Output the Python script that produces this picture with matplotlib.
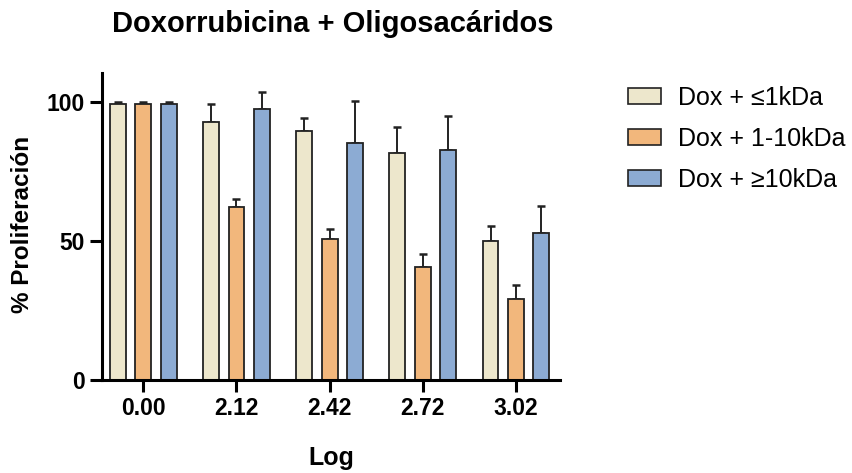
import matplotlib
matplotlib.use("Agg")
import matplotlib.pyplot as plt
import numpy as np

plt.rcParams['font.family'] = ['Liberation Sans', 'DejaVu Sans']

categories = ["0.00", "2.12", "2.42", "2.72", "3.02"]
series_names = ["Dox + \u22641kDa", "Dox + 1-10kDa", "Dox + \u226510kDa"]
low_vals = [99.0, 92.7, 89.5, 81.6, 50.0]
low_err = [1.0, 6.5, 4.7, 9.4, 5.4]
mid_vals = [99.0, 62.0, 50.6, 40.7, 29.2]
mid_err = [1.0, 3.1, 3.6, 4.7, 4.8]
high_vals = [99.0, 97.4, 85.0, 82.5, 52.8]
high_err = [1.0, 6.0, 15.3, 12.4, 9.6]
colors = ["#EDE7CC", "#F2B77C", "#8CABD3"]

fig = plt.figure(figsize=(8.52, 4.73), dpi=100)
ax = fig.add_axes([0.120, 0.1966, 0.537, 0.6494])

x = np.arange(len(categories))
width = 0.17
offset = 0.273
series = [(low_vals, low_err), (mid_vals, mid_err), (high_vals, high_err)]
for i, ((vals, errs), c, name) in enumerate(zip(series, colors, series_names)):
    pos = x + (i - 1) * offset
    ax.bar(pos, vals, width, color=c, edgecolor="#222222", linewidth=1.3, label=name, zorder=2)
    ax.errorbar(pos, vals, yerr=[np.zeros(len(errs)), errs], fmt="none", ecolor="#222222",
                elinewidth=1.4, capsize=3.2, capthick=1.8, zorder=1)

ax.set_xlim(-0.44, 4.47)
ax.set_ylim(0, 110.3)
ax.set_xticks(x)
ax.set_xticklabels(categories, fontsize=16.5, fontweight="bold")
ax.set_yticks([0, 50, 100])
ax.set_yticklabels(["0", "50", "100"], fontsize=16.5, fontweight="bold")
for s in ["top", "right"]:
    ax.spines[s].set_visible(False)
for s in ["left", "bottom"]:
    ax.spines[s].set_linewidth(2.2)
ax.tick_params(axis="both", width=2.2, length=8.5, pad=4)
ax.set_xlabel("Log", fontsize=18, fontweight="bold")
ax.set_ylabel("% Proliferación", fontsize=17.5, fontweight="bold")
ax.xaxis.set_label_coords(331 / 852, 1 - 458 / 473, transform=fig.transFigure)
ax.xaxis.label.set_va("center")
ax.yaxis.set_label_coords(23 / 852, 1 - 224 / 473, transform=fig.transFigure)
ax.yaxis.label.set_va("center")
fig.text(333 / 852, 1 - 24 / 473, "Doxorrubicina + Oligosacáridos", fontsize=21, fontweight="bold",
         ha="center", va="center")

leg = ax.legend(loc="upper left", bbox_to_anchor=(628 / 852, 1 - 86 / 473), bbox_transform=fig.transFigure,
                frameon=False, fontsize=18, handlelength=1.3, handleheight=0.6,
                labelspacing=0.68, handletextpad=0.7, borderpad=0, borderaxespad=0)
for p in leg.get_patches():
    p.set_linewidth(1.2)

fig.savefig("out.png", dpi=100)
